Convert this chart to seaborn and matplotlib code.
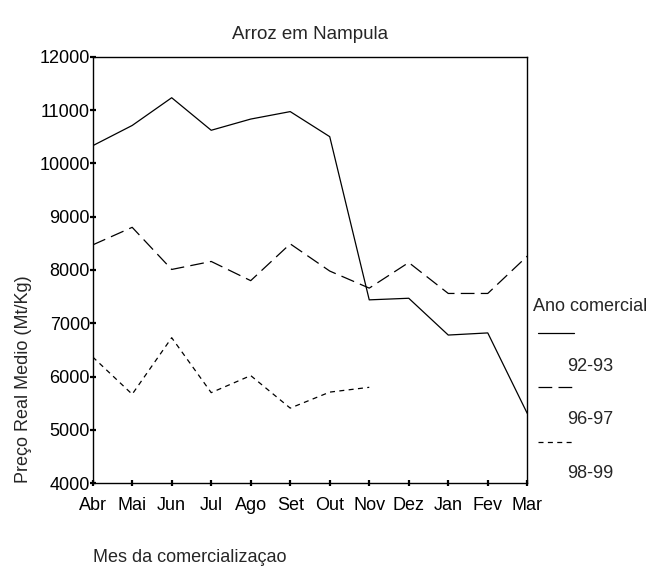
import numpy as np
import pandas as pd
import matplotlib
matplotlib.use("Agg")
import matplotlib.pyplot as plt
from matplotlib.lines import Line2D
import seaborn as sns

# data
meses = ["Abr", "Mai", "Jun", "Jul", "Ago", "Set", "Out", "Nov", "Dez", "Jan", "Fev", "Mar"]
anos = ["92-93", "96-97", "98-99"]
preco_92_93 = [10330, 10710, 11230, 10620, 10830, 10970, 10500, 7440, 7470, 6780, 6820, 5310]
preco_96_97 = [8470, 8800, 8010, 8160, 7800, 8490, 7980, 7660, 8140, 7560, 7560, 8260]
preco_98_99 = [6370, 5670, 6730, 5700, 6020, 5410, 5710, 5800, np.nan, np.nan, np.nan, np.nan]

df = pd.DataFrame({
    "mes": list(range(len(meses))) * 3,
    "preco": preco_92_93 + preco_96_97 + preco_98_99,
    "ano": [a for a in anos for _ in meses],
}).dropna()

sns.set_theme(style="ticks")
plt.rcParams["font.family"] = ["Liberation Sans", "DejaVu Sans"]
fs = 13

estilos = {"92-93": "", "96-97": (11, 5), "98-99": (4, 3.5)}

fig = plt.figure(figsize=(6.61, 5.69), dpi=100)
ax = fig.add_axes([0.1402, 0.1506, 0.6575, 0.7498])

sns.lineplot(data=df, x="mes", y="preco", style="ano", dashes=estilos,
             color="black", linewidth=0.9, legend=False, sort=False, ax=ax)

ax.set_xlim(0, len(meses) - 1)
ax.set_ylim(4000, 12000)
ax.set_xticks(range(len(meses)))
ax.set_xticklabels(meses)
ax.set_yticks(range(4000, 12001, 1000))
ax.tick_params(axis="both", direction="inout", length=4, width=1.6, colors="black",
               labelsize=fs, labelcolor="black")
ax.tick_params(axis="y", pad=0)
ax.tick_params(axis="x", pad=8)
for s in ax.spines.values():
    s.set_visible(True)
    s.set_color("black")
    s.set_linewidth(1)

ax.set_title("Arroz em Nampula", fontsize=13.5, pad=13)
ax.set_xlabel("Mes da comercializaçao", fontsize=fs, loc="left")
ax.xaxis.set_label_coords(0, -0.155)
ax.set_ylabel("Preço Real Medio (Mt/Kg)", fontsize=fs, loc="bottom")
ax.yaxis.set_label_coords(-0.139, 0)

# legend laid out like the original: title, then handle with label below it
fig.text(0.806, 0.461, "Ano comercial", fontsize=fs, va="center", ha="left")
leg_y = [0.4153, 0.3193, 0.2227]
lab_y = [0.3555, 0.2619, 0.1682]
for ano, hy, ty in zip(anos, leg_y, lab_y):
    d = estilos[ano]
    ls = "-" if d == "" else (0, d)
    fig.add_artist(Line2D([0.8135, 0.8684], [hy, hy], color="black",
                          linewidth=0.9, linestyle=ls, transform=fig.transFigure))
    fig.text(0.858, ty, ano, fontsize=fs, va="center", ha="left")

fig.savefig("out.png", dpi=100, facecolor="white")
